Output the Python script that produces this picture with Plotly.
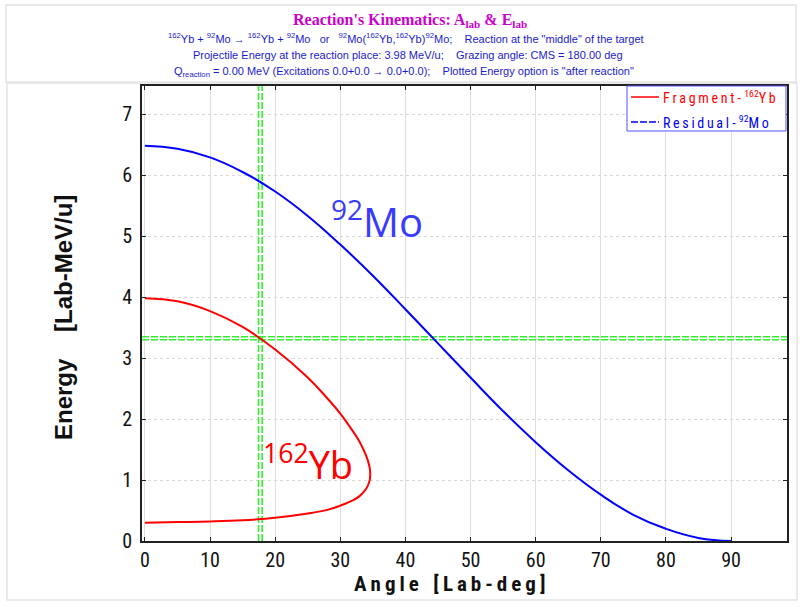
import plotly.graph_objects as go

# ---------------- data ----------------
x_ticks = [0, 10, 20, 30, 40, 50, 60, 70, 80, 90]
y_ticks = [0, 1, 2, 3, 4, 5, 6, 7]

# Fragment 162Yb : upper branch then lower branch (angle deg, energy MeV/u)
frag_angle = [0, 5, 10, 15, 20, 25, 28, 30, 32, 33, 34, 34.5, 34.6,
              34.5, 34, 33, 32, 30, 28, 25, 20, 15, 10, 5, 0]
frag_energy = [3.98, 3.93, 3.77, 3.51, 3.14, 2.68, 2.34, 2.09, 1.79, 1.62, 1.39, 1.21, 1.10,
               0.99, 0.86, 0.74, 0.67, 0.58, 0.51, 0.45, 0.38, 0.34, 0.32, 0.31, 0.30]

# Residual 92Mo
res_angle = [0, 5, 10, 15, 20, 25, 30, 35, 40, 45, 50, 55, 60, 65, 70, 75, 80, 85, 90]
res_energy = [6.48, 6.43, 6.29, 6.05, 5.73, 5.33, 4.86, 4.35, 3.80, 3.24, 2.68, 2.13,
              1.62, 1.16, 0.76, 0.43, 0.20, 0.05, 0.0]

# green marker cross-hair (double dashed lines)
marker_angles = [17.45, 18.0]
marker_energies = [3.30, 3.35]

X_RANGE = [-0.45, 98.6]
Y_RANGE = [0, 7.46]

# ---------------- layout geometry ----------------
W, H = 800, 607
ML, MR, MT, MB = 142, 13, 86, 66
PW, PH = W - ML - MR, H - MT - MB


def px(X):
    return (X - ML) / PW


def py(Y):
    return (H - MB - Y) / PH


fig = go.Figure()

# green cross-hair lines
for a in marker_angles:
    fig.add_trace(go.Scatter(x=[a, a], y=Y_RANGE, mode="lines",
                             line=dict(color="#33ee33", width=1.6, dash="7px,2px"),
                             showlegend=False, hoverinfo="skip"))
for e in marker_energies:
    fig.add_trace(go.Scatter(x=X_RANGE, y=[e, e], mode="lines",
                             line=dict(color="#33ee33", width=1.6, dash="7px,2px"),
                             showlegend=False, hoverinfo="skip"))

fig.add_trace(go.Scatter(x=frag_angle, y=frag_energy, mode="lines",
                         line=dict(color="#ff0000", width=2, shape="spline", smoothing=1.2),
                         showlegend=False))
fig.add_trace(go.Scatter(x=res_angle, y=res_energy, mode="lines",
                         line=dict(color="#0000ff", width=2, shape="spline", smoothing=1.3),
                         showlegend=False))

NARROW = "Liberation Sans Narrow, Roboto Condensed, Arial Narrow, Liberation Sans"
tickfont = dict(family=NARROW, size=20, color="#111111")

fig.update_xaxes(range=X_RANGE, tickvals=x_ticks, ticktext=[str(v) for v in x_ticks],
                 showgrid=True, gridcolor="#dedede", gridwidth=1,
                 showline=True, linecolor="#222222", linewidth=2, mirror="ticks",
                 ticks="inside", ticklen=4, tickcolor="#222222", tickfont=tickfont,
                 zeroline=False)
fig.update_yaxes(range=Y_RANGE, tickvals=y_ticks, ticktext=[str(v) for v in y_ticks],
                 showgrid=True, gridcolor="#d8d8d8", gridwidth=1, griddash="dot",
                 showline=True, linecolor="#222222", linewidth=2, mirror="ticks",
                 ticks="inside", ticklen=4, tickcolor="#222222", tickfont=tickfont,
                 zeroline=False, ticklabelstandoff=4)

shapes = []
# header box and lower panel frames
shapes.append(dict(type="rect", xref="paper", yref="paper",
                   x0=px(6), x1=px(796), y0=py(82), y1=py(5),
                   line=dict(color="#e4e4e4", width=1.5), layer="below"))
shapes.append(dict(type="rect", xref="paper", yref="paper",
                   x0=px(7), x1=px(797), y0=py(600), y1=py(83),
                   line=dict(color="#e4e4e4", width=1.5), layer="below"))
# legend box
shapes.append(dict(type="rect", xref="paper", yref="paper",
                   x0=px(627), x1=px(786), y0=py(131), y1=py(86),
                   line=dict(color="#5050ff", width=1), fillcolor="white", layer="above"))
shapes.append(dict(type="line", xref="paper", yref="paper",
                   x0=px(631), x1=px(659), y0=py(97), y1=py(97),
                   line=dict(color="#ff0000", width=1.5)))
shapes.append(dict(type="line", xref="paper", yref="paper",
                   x0=px(631), x1=px(659), y0=py(122), y1=py(122),
                   line=dict(color="#0000ee", width=1.5, dash="7px,2px")))

TS = "\u2009"
NB = "\u00a0"


def spaced(s, sep=TS):
    return sep.join(list(s))


legfont = dict(family=NARROW, size=14)
hdr_font = dict(family="Liberation Sans, Arial", size=11, color="#1a1acc")

annotations = [
    dict(text="<b>Reaction's Kinematics: A<sub>lab</sub> & E<sub>lab</sub></b>",
         x=px(410), y=py(20), font=dict(family="Liberation Serif, Times New Roman", size=16,
                                        color="#cc00cc"), xanchor="center"),
    dict(text="<sup>162</sup>Yb + <sup>92</sup>Mo → <sup>162</sup>Yb + <sup>92</sup>Mo" + NB * 3 + "or" + NB * 3 +
              "<sup>92</sup>Mo(<sup>162</sup>Yb,<sup>162</sup>Yb)<sup>92</sup>Mo;" + NB * 4 +
              "Reaction at the \"middle\" of the target",
         x=px(406), y=py(38), font=hdr_font, xanchor="center"),
    dict(text="Projectile Energy at the reaction place: 3.98 MeV/u;" + NB * 4 +
              "Grazing angle: CMS = 180.00 deg",
         x=px(408), y=py(55), font=hdr_font, xanchor="center"),
    dict(text="Q<sub>reaction</sub> = 0.00 MeV (Excitations 0.0+0.0 → 0.0+0.0);" + NB * 4 +
              "Plotted Energy option is \"after reaction\"",
         x=px(404), y=py(72), font=hdr_font, xanchor="center"),
    # axis titles
    dict(text="<b>" + spaced("Angle") + NB * 3 + spaced("[Lab-deg]") + "</b>",
         x=px(449), y=py(584),
         font=dict(family=NARROW, size=21, color="#111111"), xanchor="center"),
    dict(text="<b>Energy" + NB * 4 + "[Lab-MeV/u]</b>", x=px(63), y=py(318), textangle=-90,
         font=dict(family="Liberation Sans, Arial", size=24, color="#111111"), xanchor="center"),
    # curve labels
    dict(text="<sup>92</sup>Mo", x=px(377), y=py(220),
         font=dict(family="Open Sans, Liberation Sans", size=40, color="#3a3aff"), xanchor="center"),
    dict(text="<sup>162</sup>Yb", x=px(308), y=py(462),
         font=dict(family="Open Sans, Liberation Sans", size=38, color="#ff0000"), xanchor="center"),
    # legend texts
    dict(text=spaced("Fragment") + " - " + "<sup>162</sup>" + "Y" + TS + "b",
         x=px(661), y=py(97), font=dict(color="#ff0000", **legfont), xanchor="left"),
    dict(text=spaced("Residual") + " - " + "<sup>92</sup>" + spaced("Mo"),
         x=px(661), y=py(122), font=dict(color="#0000ee", **legfont), xanchor="left"),
]
for a in annotations:
    a.update(xref="paper", yref="paper", showarrow=False, yanchor="middle")

fig.update_layout(width=W, height=H, margin=dict(l=ML, r=MR, t=MT, b=MB),
                  paper_bgcolor="white", plot_bgcolor="white",
                  shapes=shapes, annotations=annotations, showlegend=False)

fig.write_html("out.html")
